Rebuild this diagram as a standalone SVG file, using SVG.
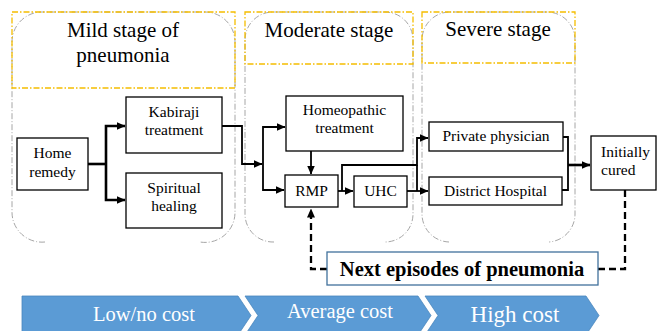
<svg xmlns="http://www.w3.org/2000/svg" width="659" height="331" viewBox="0 0 659 331">
<defs>
<marker id="ah" markerWidth="9" markerHeight="8" refX="8.5" refY="4" orient="auto" markerUnits="userSpaceOnUse"><path d="M0,0 L9,4 L0,8 Z" fill="#000"/></marker>
<style>
.stage{fill:none;stroke:#a6a6a6;stroke-width:1;stroke-dasharray:6 2 1 2}
.head{fill:none;stroke:#f5bd00;stroke-width:1.3;stroke-dasharray:6 2 1.5 2}
.box{fill:#fff;stroke:#000;stroke-width:1.3}
.t{font-family:"Liberation Serif","Times New Roman",serif;font-size:15.5px;fill:#000;text-anchor:middle}
.ts{text-anchor:start}
.st{font-family:"Liberation Serif","Times New Roman",serif;font-size:21px;fill:#000;text-anchor:middle}
.c{fill:none;stroke:#000;stroke-width:1.8}
.thick{stroke-width:2.6}
.dash{fill:none;stroke:#000;stroke-width:2.3;stroke-dasharray:7 4}
.cost{fill:#5b9bd5;stroke:#4a86bd;stroke-width:0.8}
.ct{font-family:"Liberation Serif","Times New Roman",serif;font-size:20.5px;fill:#fff;text-anchor:middle}
</style>
</defs>
<rect width="659" height="331" fill="#fff"/>

<g id="stage-mild">
<path class="stage" d="M45,242 A30,30 0 0 1 12,212 L12,42 A30,30 0 0 1 42,12 L205,12 A30,30 0 0 1 235,42 L235,212 A30,30 0 0 1 200,242"/>
<rect class="head" x="12" y="12" width="223" height="76"/>
<text class="st" x="123" y="37">Mild stage of</text>
<text class="st" x="123" y="62">pneumonia</text>
</g>
<g id="stage-moderate">
<path class="stage" d="M274,242 A28,28 0 0 1 245,214 L245,40 A28,28 0 0 1 273,12 L385,12 A28,28 0 0 1 413,40 L413,214 A28,28 0 0 1 385,242"/>
<rect class="head" x="245" y="12" width="168" height="52"/>
<text class="st" x="329" y="37">Moderate stage</text>
</g>
<g id="stage-severe">
<path class="stage" d="M449,242 A28,28 0 0 1 422,214 L422,40 A28,28 0 0 1 450,12 L547,12 A28,28 0 0 1 575,40 L575,214 A28,28 0 0 1 549,242"/>
<rect class="head" x="422" y="12" width="153" height="51"/>
<text class="st" x="498" y="36">Severe stage</text>
</g>

<g id="connectors">
<path class="c thick" d="M88,164 L106,164"/>
<path class="c thick" d="M106,164 L106,126 L125,126" marker-end="url(#ah)"/>
<path class="c thick" d="M106,164 L106,200 L125,200" marker-end="url(#ah)"/>
<path class="c" d="M222,126 L242,126 L242,164 L262,164" marker-end="url(#ah)"/>
<path class="c" d="M263,164 L263,127 L285,127" marker-end="url(#ah)"/>
<path class="c" d="M263,164 L263,190 L284,190" marker-end="url(#ah)"/>
<path class="c" d="M311,151 L311,174" marker-end="url(#ah)"/>
<path class="c" d="M338,191 L353,191" marker-end="url(#ah)"/>
<path class="c" d="M342,191 L342,165 L417,165 L417,138 L428,138" marker-end="url(#ah)"/>
<path class="c" d="M407,191 L428,191" marker-end="url(#ah)"/>
<path class="c" d="M417,165 L417,191"/>
<path class="c" d="M563,137 L568,137 L568,190 L562,190"/>
<path class="c thick" d="M568,165 L590,165" marker-end="url(#ah)"/>
<path class="dash" d="M625,190 L625,269 L598,269"/>
<path class="dash" d="M327,269 L311,269 L311,209" marker-end="url(#ah)"/>
</g>

<g id="home-remedy">
<rect class="box" x="17" y="138" width="71" height="52"/>
<text class="t" x="52.5" y="158">Home</text>
<text class="t" x="52.5" y="177">remedy</text>
</g>
<g id="kabiraji">
<rect class="box" x="126" y="97" width="96" height="56"/>
<text class="t" x="174" y="117">Kabiraji</text>
<text class="t" x="174" y="135">treatment</text>
</g>
<g id="spiritual">
<rect class="box" x="126" y="173" width="96" height="55"/>
<text class="t" x="174" y="193">Spiritual</text>
<text class="t" x="174" y="211">healing</text>
</g>
<g id="homeopathic">
<rect class="box" x="286" y="96" width="117" height="55"/>
<text class="t" x="344.5" y="115">Homeopathic</text>
<text class="t" x="344.5" y="133">treatment</text>
</g>
<g id="rmp">
<rect class="box" x="285" y="175" width="53" height="32"/>
<text class="t" x="311.5" y="196">RMP</text>
</g>
<g id="uhc">
<rect class="box" x="354" y="176" width="53" height="31"/>
<text class="t" x="380.5" y="196">UHC</text>
</g>
<g id="private-physician">
<rect class="box" x="429" y="122" width="134" height="29"/>
<text class="t" x="496" y="141">Private physician</text>
</g>
<g id="district-hospital">
<rect class="box" x="429" y="177" width="133" height="28"/>
<text class="t" x="495.5" y="196">District Hospital</text>
</g>
<g id="initially-cured">
<rect class="box" x="591" y="136" width="65" height="54"/>
<text class="t ts" x="601" y="157">Initially</text>
<text class="t ts" x="601" y="175">cured</text>
</g>
<g id="next-episodes">
<rect x="327" y="252" width="271" height="33" fill="#fff" stroke="#41719c" stroke-width="1.3"/>
<text x="462" y="276" font-family="'Liberation Serif','Times New Roman',serif" font-size="20.5" font-weight="bold" text-anchor="middle" fill="#000">Next episodes of pneumonia</text>
</g>

<g id="cost-low">
<path class="cost" d="M22,296 L238,296 L251,315.5 L238,335 L22,335 Z"/>
<text class="ct" x="144" y="321">Low/no cost</text>
</g>
<g id="cost-average">
<path class="cost" d="M245,296 L418,296 L431,315.5 L418,335 L245,335 L258,315.5 Z"/>
<text class="ct" x="340" y="318">Average cost</text>
</g>
<g id="cost-high">
<path class="cost" d="M425,296 L586,296 L599,315.5 L586,335 L425,335 L438,315.5 Z"/>
<text class="ct" x="515" y="322" style="font-size:23px">High cost</text>
</g>
</svg>
